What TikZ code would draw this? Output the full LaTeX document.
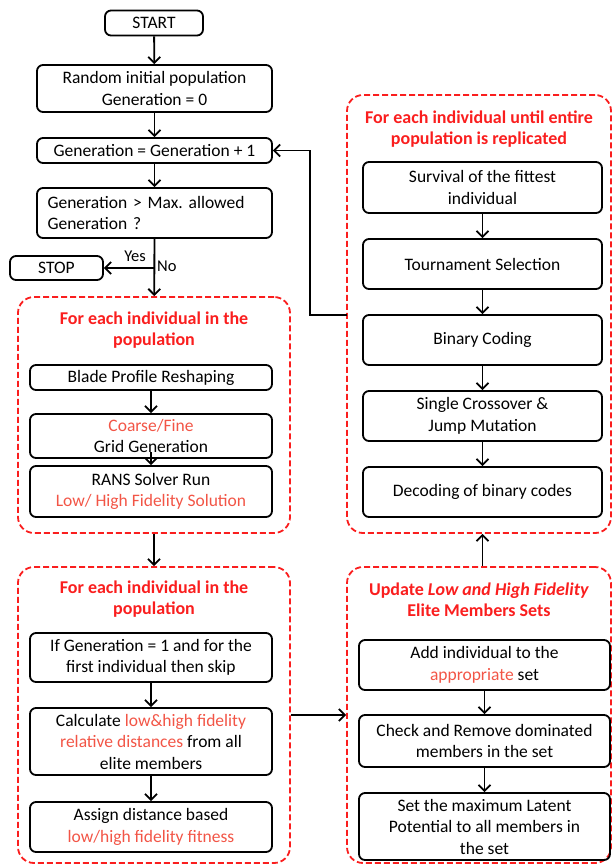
\documentclass[tikz,border=0pt]{standalone}
\usepackage{fontspec}
\setmainfont{Carlito}
\usetikzlibrary{arrows.meta}
\definecolor{titlered}{RGB}{250,30,30}
\definecolor{softred}{RGB}{242,85,70}
\begin{document}
\begin{tikzpicture}[x=1pt,y=-1pt,
  every node/.style={font=\fontsize{17.5}{21.5}\selectfont},
  box/.style={draw=black, line width=1.8pt, rounded corners=6pt, align=center, inner sep=1pt},
  group/.style={draw=titlered, line width=1.8pt, dash pattern=on 6pt off 3pt, rounded corners=16pt},
  grouptitle/.style={text=titlered, font=\fontsize{18}{21.5}\selectfont\bfseries, align=center},
  arr/.style={line width=1.8pt, -{Straight Barb[length=6pt,width=12pt,line width=1.8pt]}},
  lbl/.style={font=\fontsize{16.5}{18}\selectfont, inner sep=1pt}
]
\useasboundingbox (0,0) rectangle (612,865);

% main column
\node[box, minimum width=98pt, minimum height=25pt] (start) at (154,23) {START};
\node[box, minimum width=235pt, minimum height=47pt] (rand) at (154.5,88.5) {Random initial population\\Generation = 0};
\node[box, minimum width=235pt, minimum height=25pt] (gen) at (154.5,150.5) {Generation = Generation + 1};
\node[box, minimum width=235pt, minimum height=50pt, align=left, text width=214pt] (check) at (154.5,213) {Generation > Max.\ allowed\\Generation ?};
\node[box, minimum width=93pt, minimum height=24pt] (stop) at (56.5,268) {STOP};

% group 1
\node[group, minimum width=272pt, minimum height=236pt] (g1) at (154,415) {};
\node[grouptitle] (t1) at (154,330) {For each individual in the\\population};
\node[box, minimum width=242pt, minimum height=25pt] (blade) at (151,377.5) {Blade Profile Reshaping};
\node[box, minimum width=242pt, minimum height=44pt] (grid) at (151,436) {\textcolor{softred}{Coarse/Fine}\\Grid Generation};
\node[box, minimum width=242pt, minimum height=51pt] (rans) at (151,491.5) {RANS Solver Run\\\textcolor{softred}{Low/ High Fidelity Solution}};

% group 2
\node[group, minimum width=272pt, minimum height=296pt] (g2) at (154,715) {};
\node[grouptitle] (t2) at (154,599) {For each individual in the\\population};
\node[box, minimum width=242pt, minimum height=49pt] (skip) at (151,657.5) {If Generation = 1 and for the\\first individual then skip};
\node[box, minimum width=242pt, minimum height=67pt] (calc) at (151,741.5) {Calculate \textcolor{softred}{low\&high fidelity}\\\textcolor{softred}{relative distances} from all\\elite members};
\node[box, minimum width=242pt, minimum height=50pt] (assign) at (151,827) {Assign distance based\\\textcolor{softred}{low/high fidelity fitness}};

% group 3
\node[group, minimum width=264pt, minimum height=438pt] (g3) at (479,314) {};
\node[grouptitle] (t3) at (479,129) {For each individual until entire\\population is replicated};
\node[box, minimum width=239pt, minimum height=51pt] (surv) at (482.5,187.5) {Survival of the fittest\\individual};
\node[box, minimum width=239pt, minimum height=50pt] (tour) at (482.5,264) {Tournament Selection};
\node[box, minimum width=239pt, minimum height=50pt] (bin) at (482.5,340) {Binary Coding};
\node[box, minimum width=239pt, minimum height=50pt] (cross) at (482.5,416) {Single Crossover \&\\Jump Mutation};
\node[box, minimum width=239pt, minimum height=50pt] (dec) at (482.5,492) {Decoding of binary codes};

% group 4
\node[group, minimum width=264pt, minimum height=296pt] (g4) at (479,715) {};
\node[grouptitle] (t4) at (479,599.5) {Update \textit{Low and High Fidelity}\\Elite Members Sets};
\node[box, minimum width=251pt, minimum height=50pt] (add) at (484.5,665) {Add individual to the\\\textcolor{softred}{appropriate} set};
\node[box, minimum width=251pt, minimum height=52pt] (rem) at (484.5,741) {Check and Remove dominated\\members in the set};
\node[box, minimum width=251pt, minimum height=67pt] (lat) at (484.5,826.5) {Set the maximum Latent\\Potential to all members in\\the set};

% connectors
\draw[arr] (start) -- (rand);
\draw[arr] (rand) -- (gen);
\draw[arr] (gen) -- (check);
\draw[arr] (check) -- (g1);
\coordinate (yespt) at (154,268);
\draw[arr] (yespt) -- (stop);
\node[lbl, anchor=south east] (yes) at (147,263) {Yes};
\node[lbl, anchor=west] (no) at (156,266) {No};

\draw[arr] (blade) -- (grid);
\coordinate (gs) at (151,452);
\draw[arr] (gs) -- (rans.north);
\draw[arr] (g1) -- (g2);

\draw[arr] (skip) -- (calc);
\draw[arr] (calc) -- (assign);
\draw[arr] (g2) -- (g4);

\draw[arr] (add) -- (rem);
\draw[arr] (rem) -- (lat);
\draw[arr] (g4.north -| dec.south) -- (g3.south -| dec.south);

\draw[arr] (surv) -- (tour);
\draw[arr] (tour) -- (bin);
\draw[arr] (bin) -- (cross);
\draw[arr] (cross) -- (dec);

\coordinate (fb) at (347,315);
\draw[arr] (fb) -- (310,315) |- (gen.east);
\end{tikzpicture}
\end{document}
